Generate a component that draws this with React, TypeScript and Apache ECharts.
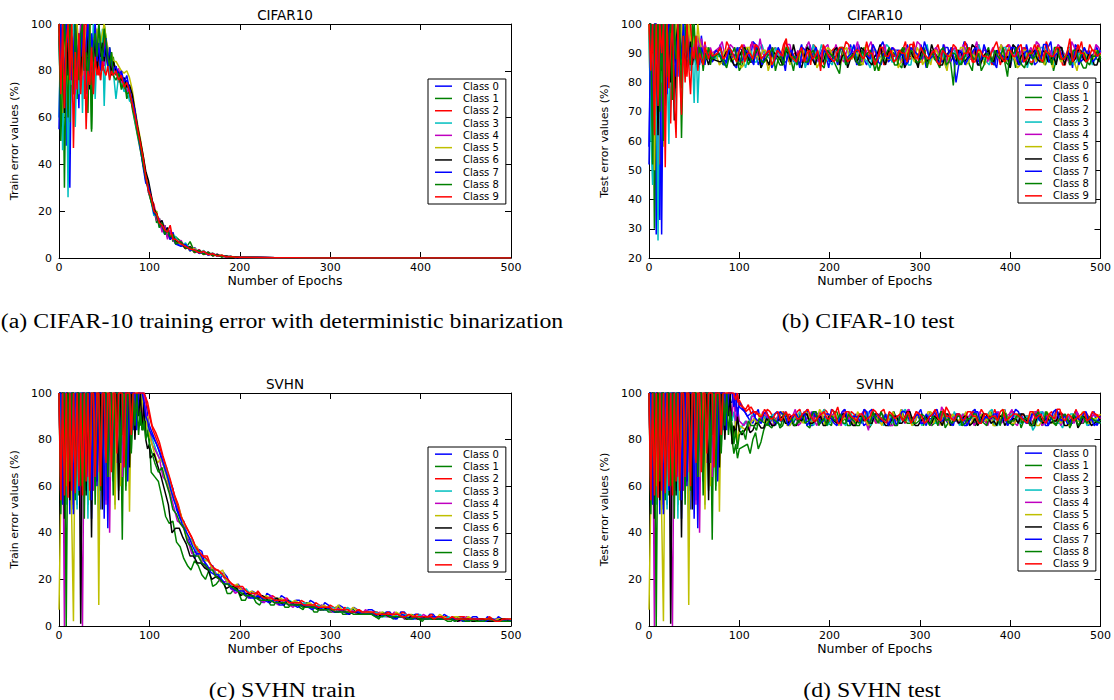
import React, { useEffect, useRef } from "react";
import * as echarts from "echarts";

const CLASS_NAMES = ["Class 0", "Class 1", "Class 2", "Class 3", "Class 4", "Class 5", "Class 6", "Class 7", "Class 8", "Class 9"];
const CLASS_COLORS = ["#0000ff", "#008000", "#ff0000", "#00bfbf", "#bf00bf", "#bfbf00", "#000000", "#0000ff", "#008000", "#ff0000"];

function epochGrid(segments: number[][]): number[] {
  const out: number[] = [];
  for (const [start, stop, step] of segments) {
    for (let e = start; e <= stop; e += step) out.push(e);
  }
  return out;
}

// per-class sampling phase (in epochs) for the long noisy stretches
const cifarTestPhase = [0, 3, 1, -2, 2, -1, 3, -2, 1, 0];
const svhnTrainPhase = [0, -4, -2, 1, -3, -1, -5, -2, 0, -3];
const svhnTestPhase = [0, 3, -2, 1, -1, 2, -3, 3, -2, 1];

// sampled epochs per panel and class
const cifarTrainEpochs = CLASS_NAMES.map(() => epochGrid([[0, 60, 2], [63, 129, 3], [135, 200, 5], [220, 500, 20]]));
const cifarTestEpochs = cifarTestPhase.map((ph) => epochGrid([[0, 70, 2], [76 + ph, 496 + ph, 6], [500, 500, 1]]));
const svhnTrainEpochs = svhnTrainPhase.map((ph) => epochGrid([[0, 100, 2], [106 + ph, 498 + ph, 8], [500, 500, 1]]));
const svhnTestEpochs = svhnTestPhase.map((ph) => epochGrid([[0, 100, 2], [106 + ph, 496 + ph, 6], [500, 500, 1]]));
// extra in-between readings for the noisy stretches
const cifarTestMidEpochs = cifarTestPhase.map((ph) => epochGrid([[79 + ph, 493 + ph, 6]]));
const svhnTrainMidEpochs = svhnTrainPhase.map((ph) => epochGrid([[110 + ph, 494 + ph, 8]]));
const svhnTestMidEpochs = svhnTestPhase.map((ph) => epochGrid([[109 + ph, 493 + ph, 6]]));

// ---------- CIFAR-10 train error (%) ----------
const cifarTrain0 = [100,56,92,100,48,85,30,98,72,100,88,64,100,79,95,70,100,84,92,76,100,88,96,82,90,94,85,88,80,86,82,
80,77,79,74,76,70,66,60,54,49,41,33,30,26,20,19,14,16,11,13,8,11,7,
5,6,3,4.5,2,3,1.4,2,.8,1.2,.4,.7,.2,.4,
.2,.1,0,0,0,0,0,0,0,0,0,0,0,0,0];
const cifarTrain1 = [95,62,100,30,88,100,58,90,76,100,68,92,85,100,74,96,62,100,55,88,98,80,100,92,86,100,94,84,90,82,86,
78,80,73,77,68,72,64,58,52,46,40,35,28,24,21,15,17,12,14,9,12,7,9,
7,4,7,2.5,3.5,1.6,2.6,1,1.6,.5,.9,.3,.5,.2,
.2,.1,0,0,0,0,0,0,0,0,0,0,0,0,0];
const cifarTrain2 = [100,88,70,100,92,64,100,80,96,72,100,86,78,94,68,100,90,82,74,96,84,92,78,88,80,95,86,82,78,84,80,
82,75,78,72,74,69,65,61,55,48,42,36,29,25,23,17,16,12,13,9,11,8,7,
6,4,5,2.2,3.6,1.5,2.4,.9,1.5,.6,.8,.3,.5,.2,
.2,.1,.1,0,0,0,0,0,0,0,0,0,0,0,0];
const cifarTrain3 = [60,100,46,85,100,26,90,74,100,56,88,70,96,62,100,84,72,92,80,100,68,88,94,76,98,65,90,84,76,88,80,
68,78,76,71,73,67,67,59,53,47,43,34,31,24,18,20,13,15,10,13,8,10,9,
5,6.5,3,4,2,3.2,1.3,2,1,1.1,.4,.7,.3,.3,
.2,.1,0,0,0,0,0,0,0,0,0,0,0,0,0];
const cifarTrain4 = [100,72,96,64,100,84,78,100,90,70,96,82,100,88,76,94,100,86,80,92,88,96,84,90,86,82,92,88,84,80,82,
79,81,75,76,71,73,66,62,55,50,42,35,28,25,22,16,17,11,14,8,12,8,6,
7.5,4,4.8,2.4,3.4,1.6,2.5,1,1.6,.6,.9,.3,.4,.2,
.3,.1,.1,0,0,0,0,0,0,0,0,0,0,0,0];
const cifarTrain5 = [100,80,62,94,100,70,88,100,76,92,100,84,96,78,100,90,86,100,82,94,90,98,88,92,96,100,94,90,86,88,84,
84,82,80,79,80,77,72,64,57,51,44,36,30,26,20,20,14,15,12,11,9,10,7,
6,5.5,3,4.2,2,3,1.4,2.1,.9,1.3,.4,.8,.2,.4,
.2,.1,.1,0,0,0,0,0,0,0,0,0,0,0,0];
const cifarTrain6 = [100,90,100,62,100,78,100,94,70,100,82,92,74,100,88,80,96,72,90,84,94,80,88,86,92,84,90,82,88,78,84,
80,79,76,77,73,74,70,63,56,50,44,37,33,27,21,19,15,16,11,13,8,10,7,
6.5,4,4.8,2.5,3.2,1.6,2.3,1.1,1.4,.6,.8,.3,.5,.2,
.2,.1,0,0,0,0,0,0,0,0,0,0,0,0,0];
const cifarTrain7 = [55,100,84,70,100,92,100,76,88,100,74,96,86,100,80,92,100,78,96,88,100,84,92,80,88,86,94,82,90,84,80,
82,78,80,75,78,72,67,63,54,47,39,32,31,25,19,18,14,14,10,12,8,9,6,
5,5.8,3.2,3.6,1.9,2.8,1.2,2,.8,1.1,.4,.6,.2,.3,
.2,.1,0,0,0,0,0,0,0,0,0,0,0,0,0];
const cifarTrain8 = [100,50,78,100,86,60,100,92,70,100,84,76,96,100,80,88,72,100,54,90,96,86,100,90,84,98,92,86,82,88,78,
76,79,72,75,70,71,65,60,53,48,40,34,29,24,20,18,13,15,10,12,9,10,6,
7,4.2,4.6,2.4,3.2,1.5,2.4,1,1.3,.5,.8,.3,.4,.2,
.2,.1,0,0,0,0,0,0,0,0,0,0,0,0,0];
const cifarTrain9 = [100,70,100,64,92,100,76,100,47,88,72,96,70,84,100,55,80,74,90,70,86,78,82,76,84,80,78,82,76,80,78,
80,76,78,73,75,71,66,61,55,49,43,35,29,26,20,19,15,14,12,11,14,8,8,
6,5,3.8,3.4,2.2,2.8,1.4,1.8,.8,1.2,.4,.6,.3,.3,
.2,.1,.1,0,0,0,0,0,0,0,0,0,0,0,0];

// ---------- CIFAR-10 test error (%) ----------
const cifarTest0 = [52,100,88,100,28,100,33,92,100,70,100,86,100,78,96,100,82,100,92,100,88,96,100,84,94,90,86,92,88,96,90,86,92,88,90,87,
90,88,91,86,92,89,87,93,88,90,85,91,89,92,87,90,88,93,86,90,89,91,88,92,87,90,93,88,89,86,
92,90,88,91,87,93,89,86,90,88,91,88,92,87,80,89,93,88,86,91,90,87,92,89,85,90,88,93,91,87,
89,92,86,90,88,91,93,87,90,89,92,88];
const cifarTest1 = [100,60,100,30,96,100,75,100,68,94,100,82,90,100,76,96,88,100,61,92,100,84,96,88,100,92,86,90,94,88,86,92,88,90,86,89,
89,91,87,90,86,92,88,90,87,91,89,86,92,88,90,87,93,89,88,90,91,87,83,90,88,92,86,90,89,87,
91,88,90,86,92,89,87,90,88,91,87,90,88,79,91,89,86,92,88,90,87,91,89,82,90,88,92,87,89,91,
86,90,88,92,89,87,91,85,89,90,87,91];
const cifarTest2 = [100,90,62,100,84,100,52,100,74,100,88,100,66,92,100,80,94,100,86,90,96,82,92,100,88,90,94,86,92,88,90,94,88,91,89,90,
91,88,92,89,87,90,93,88,90,86,91,89,93,87,90,88,91,86,92,89,88,91,87,90,93,89,86,91,88,90,
92,87,90,89,91,88,94,87,90,88,91,89,86,92,90,88,91,87,93,89,88,90,86,92,89,91,88,90,87,93,
89,91,88,90,86,92,89,94,88,91,89,90];
const cifarTest3 = [100,62,45,100,90,26,100,80,100,66,88,59,100,86,96,78,100,90,84,100,92,88,96,84,90,73,96,73,88,92,86,90,88,92,88,90,
88,91,86,90,92,88,89,87,91,90,88,92,87,90,89,86,91,88,93,89,90,87,91,88,86,92,89,90,87,91,
88,90,92,87,89,91,86,90,88,93,89,87,90,88,91,86,92,89,88,90,87,91,89,92,88,90,86,91,89,88,
92,87,90,89,91,88,86,90,92,89,88,91];
const cifarTest4 = [100,100,78,100,92,64,100,88,100,80,96,100,84,92,100,88,96,90,100,86,94,90,96,92,88,94,90,96,92,95,90,93,91,88,92,90,
92,89,93,90,88,91,94,89,90,92,88,91,90,93,89,87,92,90,88,91,93,89,90,87,92,91,88,90,94,89,
91,88,92,90,87,91,89,93,88,90,92,89,86,91,90,93,88,91,89,92,90,88,93,89,91,87,92,90,89,93,
88,91,90,92,89,94,88,91,90,89,92,90];
const cifarTest5 = [100,86,100,50,100,72,96,100,58,100,90,82,100,94,86,100,92,84,100,96,90,88,100,94,92,96,90,100,94,92,90,88,92,90,88,90,
89,87,91,88,90,86,92,89,88,91,87,90,88,92,89,86,91,88,90,87,90,91,89,87,92,88,90,86,91,89,
84,90,88,91,87,90,89,92,86,88,91,89,87,90,88,92,86,90,89,88,91,87,90,89,92,88,86,91,90,87,
89,92,85,90,88,91,87,89,90,88,91,89];
const cifarTest6 = [100,100,90,100,100,62,100,84,100,72,92,100,80,100,67,94,100,86,90,96,84,92,88,94,86,90,92,86,90,88,86,90,88,86,89,88,
87,90,88,86,91,89,87,92,88,86,90,88,91,87,89,85,92,88,90,87,89,91,86,90,88,87,92,89,86,90,
88,91,87,89,85,92,88,90,87,93,89,86,90,88,91,87,89,92,86,90,88,91,87,89,93,86,90,88,91,87,
90,88,86,92,89,87,91,88,90,86,89,88];
const cifarTest7 = [58,100,70,100,100,84,100,28,100,92,76,100,88,100,90,82,100,94,88,100,90,96,86,92,90,88,94,90,86,92,90,88,91,89,90,88,
91,89,87,90,92,88,90,86,91,89,93,88,90,87,91,89,92,86,90,88,91,87,89,92,88,90,86,91,89,93,
87,90,88,91,89,86,92,90,88,91,89,87,93,90,88,91,86,89,92,88,90,87,91,89,88,92,86,90,89,91,
88,93,87,90,89,91,88,86,92,90,88,91];
const cifarTest8 = [100,100,52,100,88,100,70,100,60,100,82,96,100,74,100,88,92,100,78,96,90,100,88,86,94,100,88,86,92,90,84,90,88,92,89,88,
90,87,89,92,86,90,88,91,87,89,92,88,86,90,89,91,87,90,88,86,91,89,87,92,88,90,86,89,91,88,
87,90,89,86,92,88,90,87,91,89,88,91,86,90,89,87,92,88,90,86,89,91,88,87,90,92,86,89,88,91,
87,90,92,88,89,86,91,90,87,89,91,88];
const cifarTest9 = [100,84,100,62,100,72,100,90,100,51,100,78,92,100,74,61,100,82,69,96,80,100,86,76,92,88,96,84,90,88,86,92,90,88,91,89,
90,88,92,89,91,87,90,93,88,90,86,91,89,92,88,90,87,91,89,84,91,88,90,92,87,89,91,88,90,86,
92,89,91,88,90,87,93,89,90,88,91,86,90,89,92,88,90,87,91,89,88,92,90,87,91,89,93,88,90,91,
87,90,89,92,88,95,89,90,87,91,89,90];

// in-between readings, CIFAR-10 test (epochs ~79..493)
const cifarTestMid0 = [93,87,90,85,91,88,94,86,89,92,87,90,84,91,89,93,86,90,88,92,85,89,91,87,93,88,90,86,92,89,94,87,89,91,86,90,88,93,85,90,91,87,92,89,86,94,88,90,87,91,89,85,92,88,90,93,87,89,86,91,88,94,87,90,89,85,92,88,91,90];
const cifarTestMid1 = [86,90,88,84,91,87,92,85,89,90,88,86,91,84,90,87,89,92,86,88,90,85,91,87,89,86,92,88,84,90,87,91,88,85,90,89,86,92,87,88,85,90,87,91,86,89,84,90,88,92,86,89,87,91,85,88,90,86,92,87,89,84,91,88,86,90,87,85,89,88];
const cifarTestMid2 = [91,94,89,92,87,90,93,88,91,86,92,89,95,88,90,87,91,93,89,86,90,92,88,94,89,87,91,90,93,88,86,92,89,91,94,88,90,87,92,89,93,88,90,91,87,94,89,92,88,90,86,91,89,93,88,90,92,87,91,89,94,88,90,86,92,89,91,88,93,90];
const cifarTestMid3 = [89,86,92,88,90,85,91,87,93,89,86,90,88,92,87,91,85,89,90,93,88,86,91,89,87,92,90,88,85,91,89,93,87,90,88,86,92,89,91,87,90,88,85,92,89,91,87,90,93,88,86,90,89,92,87,88,91,85,90,89,92,88,86,91,89,93,87,90,88,86];
const cifarTestMid4 = [94,90,92,88,93,89,91,95,88,92,90,87,93,89,91,88,94,90,87,92,89,93,88,91,90,94,87,92,89,90,93,88,91,87,92,90,94,89,88,91,90,93,87,92,89,91,88,94,90,87,92,89,91,93,88,90,87,92,94,89,91,88,93,90,87,92,89,91,88,93];
const cifarTestMid5 = [86,91,88,90,85,92,87,89,91,84,90,88,92,86,89,91,87,90,85,88,92,89,86,91,88,90,87,93,89,86,90,88,91,85,89,92,87,90,88,86,91,89,84,90,88,92,87,89,91,86,90,88,93,87,89,85,91,88,90,92,86,89,91,87,90,88,84,91,89,88];
const cifarTestMid6 = [88,91,86,89,92,87,90,85,88,91,89,86,90,93,87,89,91,86,88,90,87,92,89,85,90,88,91,87,89,93,86,90,88,91,87,89,85,92,88,90,86,89,91,87,90,88,93,86,89,91,87,90,88,85,92,89,86,90,88,91,87,89,92,86,90,88,91,87,89,86];
const cifarTestMid7 = [90,86,92,89,87,91,88,93,86,90,89,92,87,90,88,85,91,89,92,87,90,88,86,91,89,93,87,90,88,91,86,89,92,88,90,87,91,89,94,88,90,87,89,92,86,90,88,91,87,93,89,86,90,88,92,89,87,91,88,90,93,87,89,91,88,86,92,89,90,87];
const cifarTestMid8 = [88,85,90,87,92,86,89,91,87,90,84,89,92,88,86,90,87,91,89,85,90,88,92,86,89,87,91,90,88,84,89,92,86,90,88,91,87,89,85,90,88,92,87,90,86,89,91,88,84,90,87,89,92,86,90,88,85,91,89,87,90,86,92,88,89,91,87,90,86,89];
const cifarTestMid9 = [92,89,91,87,93,90,88,92,89,91,88,90,94,89,87,92,90,88,91,93,89,87,92,90,88,91,89,94,90,88,92,89,87,91,90,93,88,92,89,90,87,91,89,93,88,90,92,87,91,89,90,94,88,91,89,92,87,90,93,88,91,89,92,88,90,87,93,90,88,91];

// ---------- SVHN, epochs 0-90 (train and test curves coincide here) ----------
const svhnEarly0 = [100,60,100,100,56,100,48,100,92,100,52,100,100,70,100,58,100,100,46,100,100,62,100,50,100,100,54,100,100,72,100,60,100,100,66,100,100,70,100,100,100,84,100,92,100,96];
const svhnEarly1 = [100,100,64,100,58,100,100,50,100,96,100,56,100,100,68,100,52,100,100,60,100,100,48,100,100,74,100,56,100,100,62,100,100,58,100,37,100,64,100,100,76,100,88,94,100,86];
const svhnEarly2 = [100,55,100,100,60,100,100,52,100,100,64,100,57,100,100,70,100,100,54,100,100,66,100,100,58,100,100,100,72,100,100,64,100,100,100,82,100,100,74,100,100,100,92,100,100,100];
const svhnEarly3 = [100,100,58,100,52,100,100,66,100,100,50,100,100,62,100,100,46,100,100,58,100,100,44,100,100,60,100,100,68,100,100,52,100,100,72,100,100,60,100,100,80,100,100,90,100,94];
const svhnEarly4 = [100,62,100,0,100,100,56,100,100,68,100,100,54,0,100,100,64,100,100,58,100,100,66,100,100,100,52,100,40,100,100,100,70,100,100,64,100,100,100,78,100,100,100,86,100,96];
const svhnEarly5 = [7,55,52,100,60,100,100,48,2,100,100,58,100,100,66,100,100,54,100,100,62,100,9,100,100,56,100,100,64,100,100,50,100,100,60,100,100,68,100,49,100,100,82,100,100,92];
const svhnEarly6 = [100,100,100,46,100,100,54,100,100,60,100,100,1,100,100,56,100,100,38,100,100,62,100,100,50,100,100,58,100,100,66,100,100,54,100,100,72,100,100,68,100,100,80,100,90,100];
const svhnEarly7 = [100,100,52,100,100,64,100,100,48,100,100,58,100,100,66,100,100,100,54,100,100,60,100,100,100,46,100,42,100,100,64,100,100,100,70,100,100,100,62,100,100,100,100,84,100,100];
const svhnEarly8 = [100,48,100,100,0,100,62,100,100,54,100,100,60,100,46,100,100,66,100,100,52,100,100,58,100,100,100,64,100,100,56,100,100,100,70,100,100,58,100,100,74,100,86,100,82,92];
const svhnEarly9 = [100,54,100,56,100,55,100,58,100,57,100,60,100,56,100,62,100,58,100,100,64,100,100,60,100,100,70,100,100,66,100,100,74,100,100,100,68,100,100,100,82,100,100,100,100,100];

// ---------- SVHN train error (%), epochs 92 onwards ----------
const svhnTrainLate0 = [100,100,98,90,86, 80,71,63,50,45,34,33,26,26,20, 21,15,16,12,14,10,13,10,12,9, 11,8,10,7,9,6,8,6,7,5, 7,5,6,4,6,4,5,3,5,3, 5,3,4,3,4,2,4,2,3,3, 3];
const svhnTrainLate1 = [90,84,88,82,80, 66,62,47,45,34,26,28,22,24,18, 19,14,15,11,13,9,12,9,11,8, 10,7,9,6,8,6,8,5,7,5, 6,4,6,4,5,3,5,3,4,3, 4,2,4,2,3,2,3,2,3,2, 2];
const svhnTrainLate2 = [98,100,96,94,90, 84,76,66,56,46,40,33,30,26,24, 20,18,16,15,13,13,11,12,10,10, 9,10,8,9,7,8,6,7,6,6, 5,6,5,5,4,5,4,4,4,3, 4,3,3,4,3,3,2,3,3,2, 3];
const svhnTrainLate3 = [100,88,92,86,84, 76,70,60,52,42,37,30,29,24,22, 18,17,14,14,12,12,11,11,10,10, 9,9,8,8,7,7,6,7,5,6, 5,5,4,5,4,4,3,4,3,4, 3,3,3,3,2,3,2,3,2,2, 2];
const svhnTrainLate4 = [90,100,92,88,84, 78,72,62,51,44,36,32,27,25,21, 19,16,15,13,13,11,12,10,11,9, 10,8,9,7,8,6,7,6,6,5, 6,5,5,4,5,3,4,3,4,3, 4,3,3,3,3,2,3,2,3,2, 2];
const svhnTrainLate5 = [100,88,84,90,82, 75,72,61,54,45,37,34,28,25,23, 20,17,16,14,14,12,12,11,11,10, 10,9,9,8,8,7,7,6,7,5, 6,5,5,4,5,4,4,4,4,3, 4,3,4,3,3,3,3,2,3,3, 3];
const svhnTrainLate6 = [84,96,80,76,78, 72,69,58,40,42,35,30,27,24,21, 19,17,16,14,13,12,12,11,10,11, 9,9,8,8,7,7,6,6,6,5, 5,5,5,4,4,4,4,3,4,3, 3,3,3,3,3,2,3,2,2,3, 2];
const svhnTrainLate7 = [100,96,90,88,84, 81,74,64,53,44,38,31,28,23,22, 18,16,15,13,12,12,10,11,9,10, 8,9,7,8,7,6,7,5,6,5, 5,4,5,4,4,4,3,4,3,4, 3,3,3,2,3,3,2,3,2,3, 2];
const svhnTrainLate8 = [84,88,80,84,78, 70,68,57,48,42,34,30,26,24,20, 18,16,14,13,12,11,11,10,10,9, 9,8,8,7,7,6,6,6,5,5, 5,4,5,4,4,3,4,3,3,3, 3,3,3,2,3,2,3,2,2,2, 2];
const svhnTrainLate9 = [100,100,98,96,92, 86,79,68,57,47,41,34,30,27,24, 21,18,17,15,14,13,12,11,11,10, 10,9,9,8,8,7,7,7,6,6, 6,5,5,5,5,4,4,4,4,3, 4,3,3,3,3,3,3,3,2,3, 3];

// in-between readings, SVHN train (epochs ~110..494)
const svhnTrainMid0 = [76,66,59,46,38,29,32,24,21,23, 16,18,13,15,11,14,10,13,9,11, 9,11,7,10,7,9,6,8,5,7, 6,4,6,3,6,4,5,3,5,3, 4,2,4,3,4,2,3,4,2];
const svhnTrainMid1 = [64,55,44,36,29,24,26,20,17,20, 14,16,11,14,10,12,9,12,8,10, 8,10,6,9,6,8,5,7,5,6, 5,3,5,3,5,3,4,2,4,3, 3,2,4,2,3,2,3,2,2];
const svhnTrainMid2 = [80,71,61,52,43,37,31,30,24,22, 19,17,16,13,15,11,13,10,12,9, 11,8,10,8,9,7,8,6,7,5, 6,5,6,4,6,4,5,3,5,3, 4,3,4,3,3,2,4,2,3];
const svhnTrainMid3 = [72,68,54,47,38,33,28,27,22,21, 17,15,16,12,13,11,12,10,11,9, 10,8,9,7,8,6,8,6,6,5, 6,4,5,4,5,3,5,3,4,3, 4,3,3,3,3,2,3,2,3];
const svhnTrainMid4 = [75,64,57,45,41,31,30,25,24,19, 19,14,16,12,14,10,13,9,12,8, 10,9,8,9,7,8,6,7,5,7, 5,6,4,6,4,5,3,5,3,4, 3,4,2,4,3,3,2,3,2];
const svhnTrainMid5 = [70,67,56,50,39,35,29,28,21,24, 17,18,14,15,12,13,11,12,10,11, 9,10,8,9,7,9,6,8,6,6, 5,6,4,6,4,5,4,4,3,5, 3,4,3,4,2,3,3,3,3];
const svhnTrainMid6 = [74,64,52,42,38,30,27,25,20,21, 16,17,13,14,12,13,10,12,9,10, 9,8,8,7,8,6,7,5,6,5, 5,4,5,4,4,3,4,3,4,3, 3,3,2,3,2,3,2,2,3];
const svhnTrainMid7 = [78,69,58,49,41,34,31,26,22,20, 18,15,15,12,13,11,11,9,11,9, 9,8,8,7,8,6,6,6,6,5, 5,4,5,3,5,3,4,3,4,3, 3,3,3,2,3,2,3,2,2];
const svhnTrainMid8 = [66,62,50,44,36,30,27,24,21,18, 17,15,13,13,11,11,10,10,9,9, 8,8,7,7,7,6,6,5,5,5, 4,4,4,4,4,3,3,3,3,3, 3,2,3,2,2,2,3,2,2];
const svhnTrainMid9 = [83,73,63,52,44,38,32,29,25,23, 20,17,17,14,14,12,12,11,11,10, 10,9,9,8,8,7,7,6,7,6, 6,5,5,5,4,5,4,4,4,4, 3,4,3,3,3,3,3,2,3];

// ---------- SVHN test error (%), epochs 92 onwards ----------
const svhnTestLate0 = [96,100,92,100,94, 92,88,91,87,90,89,92,88,90,87, 91,89,86,92,88,90,93,87,89,91, 88,90,86,92,89,87,91,90,88,93, 89,86,91,88,90,92,87,89,91,88, 90,86,92,89,88,91,87,90,93,88, 89,91,87,90,88,92,86,89,91,90, 87,92,88,89,91,86, 89];
const svhnTestLate1 = [80,74,78,72,76, 78,80,76,84,86,88,85,90,87,89, 91,86,89,88,90,87,92,88,89,86, 90,88,91,87,89,90,86,92,88,89, 87,91,88,90,86,89,92,87,90,88, 91,89,86,90,88,92,87,89,90,86, 91,88,90,87,89,92,88,86,90,89, 88,91,87,90,88,89, 88];
const svhnTestLate2 = [100,98,100,96,97, 94,93,92,91,90,92,89,91,88,90, 92,89,91,87,90,93,88,91,89,90, 92,88,90,86,91,89,93,88,90,91, 87,90,92,89,88,91,90,87,92,89, 90,88,91,89,93,87,90,88,91,89, 92,88,90,87,91,89,90,92,88,91, 89,90,88,92,89,91, 90];
const svhnTestLate3 = [88,92,86,90,84, 88,90,86,89,87,91,88,90,86,89, 92,87,90,88,91,86,89,90,87,92, 88,90,89,86,91,88,90,87,89,92, 88,86,90,89,91,87,88,90,86,89, 91,88,90,87,89,92,86,90,88,91, 89,87,90,84,89,91,88,90,87,89, 91,88,90,86,89,88, 87];
const svhnTestLate4 = [90,100,86,94,88, 86,84,90,88,91,87,89,92,88,90, 86,91,89,88,92,87,90,89,86,91, 88,90,92,84,89,91,88,86,90,89, 92,88,91,87,90,89,86,92,88,90, 89,87,91,88,90,86,89,92,88,91, 87,90,89,88,92,86,90,89,91,88, 90,87,89,91,88,90, 89];
const svhnTestLate5 = [84,80,88,78,86, 84,88,86,90,88,87,91,89,86,90, 88,92,87,89,91,88,90,86,89,92, 87,90,88,91,89,86,90,92,88,89, 91,87,90,88,92,89,86,90,91,88, 89,87,91,90,88,92,86,89,90,87, 91,88,89,92,86,90,88,91,87,89, 90,88,92,87,89,90, 91];
const svhnTestLate6 = [78,86,82,90,84, 82,86,84,87,85,88,86,89,87,90, 86,88,91,87,89,86,90,88,87,91, 88,86,90,89,87,91,88,86,90,87, 89,92,86,88,90,87,89,86,91,88, 87,90,86,89,88,91,87,86,90,88, 89,87,91,88,86,90,89,87,88,91, 86,89,85,90,88,87, 89];
const svhnTestLate7 = [100,94,100,90,96, 90,92,88,91,89,87,92,90,88,91, 89,86,92,90,88,91,87,89,93,88, 90,87,92,89,91,88,86,90,89,92, 88,90,87,91,89,93,88,90,86,91, 89,88,92,87,90,89,91,88,86,90, 92,89,87,91,88,90,89,93,88,87, 90,89,91,88,86,90, 89];
const svhnTestLate8 = [86,78,84,76,82, 84,88,86,89,87,90,88,86,91,89, 87,90,88,92,86,89,90,88,91,87, 89,86,90,88,92,87,89,91,86,90, 88,89,87,91,88,90,86,92,89,88, 90,87,89,91,88,86,90,89,92,87, 88,91,89,86,90,88,92,89,87,90, 88,91,86,89,90,88, 87];
const svhnTestLate9 = [100,100,97,100,95, 93,91,92,90,91,89,92,90,88,91, 89,92,90,88,91,89,93,87,90,92, 89,91,88,90,92,89,87,91,90,88, 92,89,91,87,90,93,88,90,89,91, 88,92,90,87,91,89,90,92,88,90, 91,89,87,92,90,88,91,89,93,88, 90,89,91,88,92,90, 89];

// in-between readings, SVHN test (epochs ~109..493)
const svhnTestMid0 = [90,87,93,89,86,91,88,92,87,90, 88,93,86,91,89,87,92,88,90,86, 91,89,87,93,88,90,86,92,89,87, 91,88,93,86,90,89,92,87,88,91, 86,90,93,88,89,87,92,90,86,89, 91,88,87,92,90,86,89,93,88,90, 87,91,89,86,92];
const svhnTestMid1 = [74,83,79,87,85,89,86,90,88,87, 90,85,91,87,89,86,92,88,86,90, 87,89,85,91,88,90,86,89,92,87, 88,90,86,89,87,91,85,90,88,86, 89,91,87,88,90,86,89,92,87,88, 85,90,88,91,86,89,87,90,88,85, 91,87,89,88,90];
const svhnTestMid2 = [92,94,91,89,93,90,88,92,91,89, 93,90,87,91,89,92,88,94,90,89, 91,88,93,90,87,92,89,91,88,90, 93,89,91,87,92,90,88,94,89,91, 90,87,92,89,91,88,93,90,89,92, 88,91,90,87,93,89,91,88,92,90, 89,93,88,91,90];
const svhnTestMid3 = [85,91,87,90,88,86,92,89,87,90, 88,91,86,89,93,87,90,88,86,91, 89,87,92,88,90,86,91,89,87,93, 88,90,86,89,91,87,90,88,92,86, 89,91,88,87,90,93,86,89,88,91, 87,90,89,86,92,88,90,87,85,89, 91,88,90,87,89];
const svhnTestMid4 = [88,90,87,92,89,86,91,88,90,93, 87,89,92,86,90,88,91,87,93,89, 86,90,88,92,87,91,89,86,90,88, 93,87,91,89,86,90,94,88,89,87, 91,90,86,92,88,89,91,87,90,93, 86,89,88,92,90,87,91,89,86,90, 88,92,87,89,91];
const svhnTestMid5 = [86,89,91,87,90,88,92,86,89,91, 87,90,88,93,86,89,91,88,90,87, 92,89,86,90,88,91,87,89,93,88, 86,90,89,92,87,88,91,86,90,89, 92,87,88,91,89,86,90,93,88,87, 90,89,91,86,88,92,87,90,89,86, 91,88,90,87,89];
const svhnTestMid6 = [84,83,87,85,89,86,88,90,87,86, 89,91,87,88,90,86,89,87,91,88, 86,90,88,87,91,89,86,88,90,87, 92,88,86,89,87,90,88,91,86,89, 88,90,87,86,91,89,88,90,86,87, 89,91,88,86,90,87,89,88,91,86, 88,90,87,89,86];
const svhnTestMid7 = [91,89,87,92,90,88,91,86,90,89, 92,88,90,87,91,89,86,92,88,90, 89,93,87,90,88,91,89,86,92,90, 88,91,87,89,92,88,90,87,91,89, 86,90,92,88,89,91,87,90,88,93, 89,87,91,90,88,86,92,89,91,87, 90,88,92,89,87];
const svhnTestMid8 = [80,86,84,88,86,89,87,91,88,86, 90,87,89,92,88,86,90,89,87,91, 88,86,90,87,89,92,88,90,86,89, 91,87,88,90,86,89,92,88,87,90, 86,89,91,88,87,90,89,86,91,88, 90,87,89,86,92,88,90,87,89,91, 86,88,90,87,89];
const svhnTestMid9 = [95,92,90,93,89,91,88,92,90,89, 91,93,88,90,92,89,91,87,92,90, 88,91,89,93,90,88,92,89,91,90, 87,92,90,88,91,89,93,90,88,91, 89,92,90,87,91,90,88,93,89,91, 90,88,92,89,91,87,90,93,89,91, 88,90,92,89,91];

const cifarTrain = [cifarTrain0, cifarTrain1, cifarTrain2, cifarTrain3, cifarTrain4, cifarTrain5, cifarTrain6, cifarTrain7, cifarTrain8, cifarTrain9];
const cifarTest = [cifarTest0, cifarTest1, cifarTest2, cifarTest3, cifarTest4, cifarTest5, cifarTest6, cifarTest7, cifarTest8, cifarTest9];
const cifarTestMid = [cifarTestMid0, cifarTestMid1, cifarTestMid2, cifarTestMid3, cifarTestMid4, cifarTestMid5, cifarTestMid6, cifarTestMid7, cifarTestMid8, cifarTestMid9];
const svhnEarly = [svhnEarly0, svhnEarly1, svhnEarly2, svhnEarly3, svhnEarly4, svhnEarly5, svhnEarly6, svhnEarly7, svhnEarly8, svhnEarly9];
const svhnTrainLate = [svhnTrainLate0, svhnTrainLate1, svhnTrainLate2, svhnTrainLate3, svhnTrainLate4, svhnTrainLate5, svhnTrainLate6, svhnTrainLate7, svhnTrainLate8, svhnTrainLate9];
const svhnTrainMid = [svhnTrainMid0, svhnTrainMid1, svhnTrainMid2, svhnTrainMid3, svhnTrainMid4, svhnTrainMid5, svhnTrainMid6, svhnTrainMid7, svhnTrainMid8, svhnTrainMid9];
const svhnTestLate = [svhnTestLate0, svhnTestLate1, svhnTestLate2, svhnTestLate3, svhnTestLate4, svhnTestLate5, svhnTestLate6, svhnTestLate7, svhnTestLate8, svhnTestLate9];
const svhnTestMid = [svhnTestMid0, svhnTestMid1, svhnTestMid2, svhnTestMid3, svhnTestMid4, svhnTestMid5, svhnTestMid6, svhnTestMid7, svhnTestMid8, svhnTestMid9];
const svhnTrain = svhnEarly.map((e, k) => e.concat(svhnTrainLate[k]));
const svhnTest = svhnEarly.map((e, k) => e.concat(svhnTestLate[k]));
const noMid: number[][] = CLASS_NAMES.map(() => []);

const FONT = "DejaVu Sans";

const PANELS = [
  { title: "CIFAR10", yName: "Train error values (%)", caption: "(a) CIFAR-10 training error with deterministic binarization",
    epochs: cifarTrainEpochs, values: cifarTrain, midEpochs: noMid, midValues: noMid, yMin: 0, yStep: 20,
    left: 59, top: 24, height: 234, titleTop: 8, legendLeft: 428, legendTop: 79, captionX: 282, captionY: 321 },
  { title: "CIFAR10", yName: "Test error values (%)", caption: "(b) CIFAR-10 test",
    epochs: cifarTestEpochs, values: cifarTest, midEpochs: cifarTestMidEpochs, midValues: cifarTestMid, yMin: 20, yStep: 10,
    left: 649, top: 24, height: 234, titleTop: 8, legendLeft: 1018, legendTop: 78, captionX: 868, captionY: 321 },
  { title: "SVHN", yName: "Train error values (%)", caption: "(c) SVHN train",
    epochs: svhnTrainEpochs, values: svhnTrain, midEpochs: svhnTrainMidEpochs, midValues: svhnTrainMid, yMin: 0, yStep: 20,
    left: 59, top: 393, height: 233, titleTop: 377, legendLeft: 428, legendTop: 447, captionX: 282, captionY: 690 },
  { title: "SVHN", yName: "Test error values (%)", caption: "(d) SVHN test",
    epochs: svhnTestEpochs, values: svhnTest, midEpochs: svhnTestMidEpochs, midValues: svhnTestMid, yMin: 0, yStep: 20,
    left: 649, top: 393, height: 233, titleTop: 377, legendLeft: 1018, legendTop: 446, captionX: 872, captionY: 690 },
];

function mergeSamples(e1: number[], v1: number[], e2: number[], v2: number[]): number[][] {
  const pts: number[][] = [];
  e1.forEach((x, j) => { if (v1[j] !== undefined) pts.push([x, v1[j]]); });
  e2.forEach((x, j) => { if (v2[j] !== undefined) pts.push([x, v2[j]]); });
  return pts.sort((a, b) => a[0] - b[0]);
}

function buildOption(): any {
  const axisLine = { show: true, onZero: false, lineStyle: { color: "#000", width: 1 } };
  const axisTick = { show: true, inside: true, length: 6, lineStyle: { color: "#000", width: 1 } };
  const labelStyle = { fontSize: 11, color: "#000", fontFamily: FONT };

  const xAxis: any[] = [];
  const yAxis: any[] = [];
  PANELS.forEach((p, i) => {
    xAxis.push({
      type: "value", gridIndex: i, min: 0, max: 500, interval: 100, position: "bottom",
      axisLine, axisTick, splitLine: { show: false },
      axisLabel: { ...labelStyle, margin: 4 },
      name: "Number of Epochs", nameLocation: "middle", nameGap: 16,
      nameTextStyle: { fontSize: 12.5, color: "#000", fontFamily: FONT },
    });
    xAxis.push({
      type: "value", gridIndex: i, min: 0, max: 500, interval: 100, position: "top",
      axisLine, axisTick, splitLine: { show: false }, axisLabel: { show: false },
    });
    yAxis.push({
      type: "value", gridIndex: i, min: p.yMin, max: 100, interval: p.yStep, position: "left",
      axisLine, axisTick, splitLine: { show: false },
      axisLabel: { ...labelStyle, margin: 7 },
      name: p.yName, nameLocation: "middle", nameRotate: 90, nameGap: 39,
      nameTextStyle: { fontSize: 11, color: "#000", fontFamily: FONT },
    });
    yAxis.push({
      type: "value", gridIndex: i, min: p.yMin, max: 100, interval: p.yStep, position: "right",
      axisLine, axisTick, splitLine: { show: false }, axisLabel: { show: false },
    });
  });

  const series: any[] = [];
  PANELS.forEach((p, i) => {
    p.values.forEach((ys, k) => {
      series.push({
        type: "line",
        name: CLASS_NAMES[k],
        xAxisIndex: 2 * i,
        yAxisIndex: 2 * i,
        data: mergeSamples(p.epochs[k], ys, p.midEpochs[k], p.midValues[k]),
        showSymbol: false,
        symbol: "none",
        color: CLASS_COLORS[k],
        lineStyle: { width: 1.5, color: CLASS_COLORS[k] },
        silent: true,
        emphasis: { disabled: true },
      });
    });
  });

  return {
    animation: false,
    backgroundColor: "#fff",
    title: PANELS.map((p) => ({
      text: p.title,
      left: p.left + 226,
      top: p.titleTop,
      textAlign: "center",
      padding: 0,
      textStyle: { fontSize: 13.5, fontWeight: "normal", color: "#000", fontFamily: FONT },
    })),
    grid: PANELS.map((p) => ({ left: p.left, top: p.top, width: 452, height: p.height })),
    xAxis,
    yAxis,
    legend: PANELS.map((p) => ({
      orient: "vertical",
      left: p.legendLeft,
      top: p.legendTop,
      data: CLASS_NAMES,
      selectedMode: false,
      icon: "rect",
      itemWidth: 17,
      itemHeight: 1.5,
      itemGap: 0,
      padding: [1, 7, 1, 7],
      borderColor: "#000",
      borderWidth: 1,
      backgroundColor: "#fff",
      textStyle: { fontSize: 10, color: "#000", fontFamily: FONT, lineHeight: 12.3, padding: [0, 0, 0, 6] },
    })),
    graphic: PANELS.map((p) => ({
      type: "text",
      x: p.captionX,
      y: p.captionY,
      scaleX: 1.19,
      style: {
        text: p.caption,
        fontSize: 20,
        fontFamily: "Liberation Serif",
        fill: "#000",
        textAlign: "center",
        textVerticalAlign: "middle",
      },
    })),
    series,
  };
}

export default function App() {
  const ref = useRef<HTMLDivElement>(null);
  useEffect(() => {
    if (!ref.current) return;
    const chart = echarts.init(ref.current, undefined, { renderer: "svg" });
    chart.setOption(buildOption());
    return () => chart.dispose();
  }, []);
  return (
    <div
      ref={ref}
      style={{ position: "absolute", left: 0, top: 0, width: 1114, height: 700, background: "#fff" }}
    />
  );
}
